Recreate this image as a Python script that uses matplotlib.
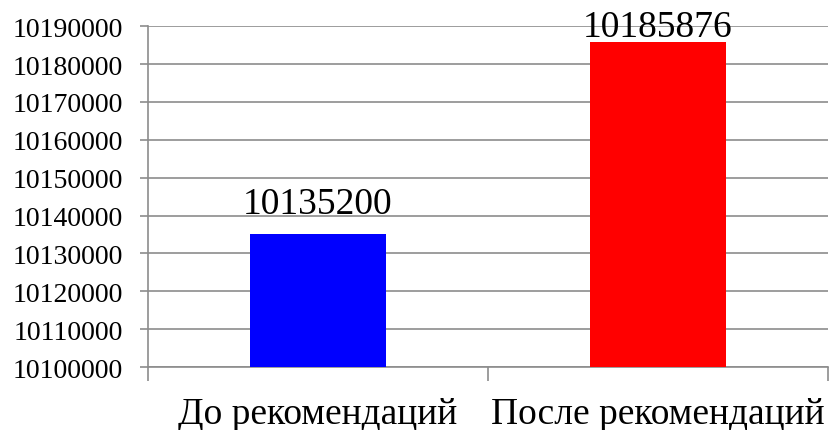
import matplotlib.pyplot as plt
import numpy as np

categories = ["До рекомендаций", "После рекомендаций"]
values = [10135200, 10185876]
colors = ["#0000FF", "#FF0000"]
y_ticks = list(range(10100000, 10190001, 10000))

plt.rcParams['font.family'] = ['Liberation Serif', 'DejaVu Serif']

fig = plt.figure(figsize=(8.31, 4.31), dpi=100)
ax = fig.add_axes([0.178, 0.146, 0.818, 0.791])

x = np.arange(len(categories))
ax.bar(x, [v - y_ticks[0] for v in values], bottom=y_ticks[0], width=0.4,
       color=colors, zorder=3)
# the top label sits closer to its bar so it stays inside the picture
label_gap = [15, 4.5]
for xi, v, gap in zip(x, values, label_gap):
    ax.annotate(str(v), (xi, v), xytext=(0, gap), textcoords='offset points',
                ha='center', va='baseline', fontsize=27, zorder=4,
                annotation_clip=False)

ax.set_ylim(y_ticks[0], y_ticks[-1])
ax.set_xlim(-0.5, len(categories) - 0.5)
ax.set_yticks(y_ticks)
ax.set_yticklabels([str(t) for t in y_ticks], fontsize=20)
ax.yaxis.grid(True, color='#8c8c8c', linewidth=1.2, zorder=0)
ax.tick_params(axis='y', direction='out', length=6, color='#8c8c8c', width=1.2, pad=12)

ax.set_xticks(x)
ax.set_xticklabels(categories, fontsize=27)
ax.tick_params(axis='x', which='major', length=0, pad=21)
ax.set_xticks(np.arange(-0.5, len(categories)), minor=True)
ax.tick_params(axis='x', which='minor', direction='out', length=10,
               color='#8c8c8c', width=1.2)

for s in ['top', 'right']:
    ax.spines[s].set_visible(False)
for s in ['left', 'bottom']:
    ax.spines[s].set_color('#8c8c8c')
    ax.spines[s].set_linewidth(1.2)

fig.savefig("out.png", dpi=100)
